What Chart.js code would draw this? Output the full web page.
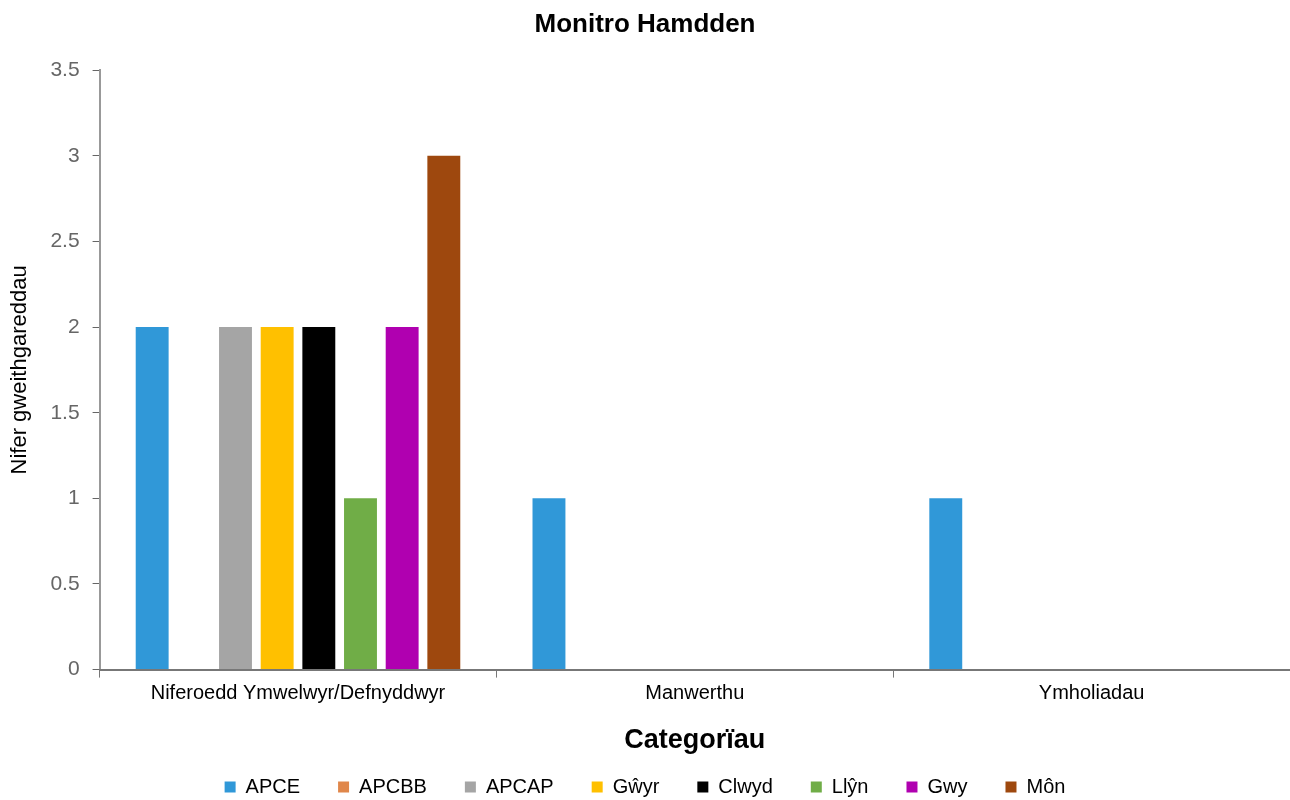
<!DOCTYPE html>
<html>
<head>
<meta charset="utf-8">
<title>Monitro Hamdden</title>
<script src="https://cdn.jsdelivr.net/npm/chart.js@4/dist/chart.umd.min.js"></script>
<style>
  html, body { margin: 0; padding: 0; background: #fff; }
  #wrap { width: 1290px; height: 800px; }
</style>
</head>
<body>
<div id="wrap"><canvas id="hamdden-chart" width="1290" height="800"></canvas></div>
<script>
const CATEGORIES = ['Niferoedd Ymwelwyr/Defnyddwyr', 'Manwerthu', 'Ymholiadau'];
const SERIES_NAMES = ['APCE', 'APCBB', 'APCAP', 'Gŵyr', 'Clwyd', 'Llŷn', 'Gwy', 'Môn'];
const SERIES_COLORS = ['#3098d8', '#e0874a', '#a5a5a5', '#ffc000', '#000000', '#70ad47', '#b000b0', '#9e480e'];

const APCE = [2, 1, 1];
const APCBB = [0, 0, 0];
const APCAP = [2, 0, 0];
const GWYR = [2, 0, 0];
const CLWYD = [2, 0, 0];
const LLYN = [1, 0, 0];
const GWY = [2, 0, 0];
const MON = [3, 0, 0];
const SERIES_VALUES = [APCE, APCBB, APCAP, GWYR, CLWYD, LLYN, GWY, MON];

const Y_MIN = 0;
const Y_MAX = 3.5;
const Y_STEP = 0.5;

const FONT = "'Liberation Sans', Arial, sans-serif";

function buildDatasets() {
  return SERIES_NAMES.map((name, i) => ({
    label: name,
    data: SERIES_VALUES[i],
    backgroundColor: SERIES_COLORS[i],
    borderWidth: 0,
    categoryPercentage: 0.84,
    barPercentage: 0.79,
  }));
}

function renderChart() {
  const canvas = document.getElementById('hamdden-chart');

  new Chart(canvas, {
    type: 'bar',
    data: { labels: CATEGORIES, datasets: buildDatasets() },
    options: {
      responsive: false,
      animation: false,
      layout: { padding: { left: 0, right: 0, top: 0, bottom: -7 } },
      plugins: {
        title: {
          display: true,
          text: 'Monitro Hamdden',
          color: '#000',
          font: { family: FONT, size: 26, weight: 'bold' },
          padding: { top: 9, bottom: 30 },
        },
        legend: {
          position: 'bottom',
          labels: {
            boxWidth: 11,
            boxHeight: 11,
            padding: 38,
            color: '#000',
            font: { family: FONT, size: 20 },
          },
        },
        tooltip: { enabled: false },
      },
      scales: {
        y: {
          min: Y_MIN,
          max: Y_MAX,
          ticks: {
            stepSize: Y_STEP,
            color: '#666',
            padding: 13,
            font: { family: FONT, size: 21 },
            callback: (value) => String(value),
          },
          grid: { drawOnChartArea: false, tickLength: 7, color: '#666' },
          border: { color: '#999', width: 2 },
          title: {
            display: true,
            text: 'Nifer gweithgareddau',
            color: '#000',
            font: { family: FONT, size: 22 },
            padding: { top: 7, bottom: 4 },
          },
        },
        x: {
          offset: true,
          ticks: {
            color: '#000',
            padding: 4,
            font: { family: FONT, size: 20 },
          },
          grid: { offset: true, drawOnChartArea: false, tickLength: 8, color: '#777' },
          border: { color: '#777', width: 2 },
          title: {
            display: true,
            text: 'Categorïau',
            color: '#000',
            font: { family: FONT, size: 27, weight: 'bold' },
            padding: { top: 15, bottom: -18 },
          },
        },
      },
    },
  });
}

document.addEventListener('DOMContentLoaded', renderChart);
</script>
</body>
</html>
